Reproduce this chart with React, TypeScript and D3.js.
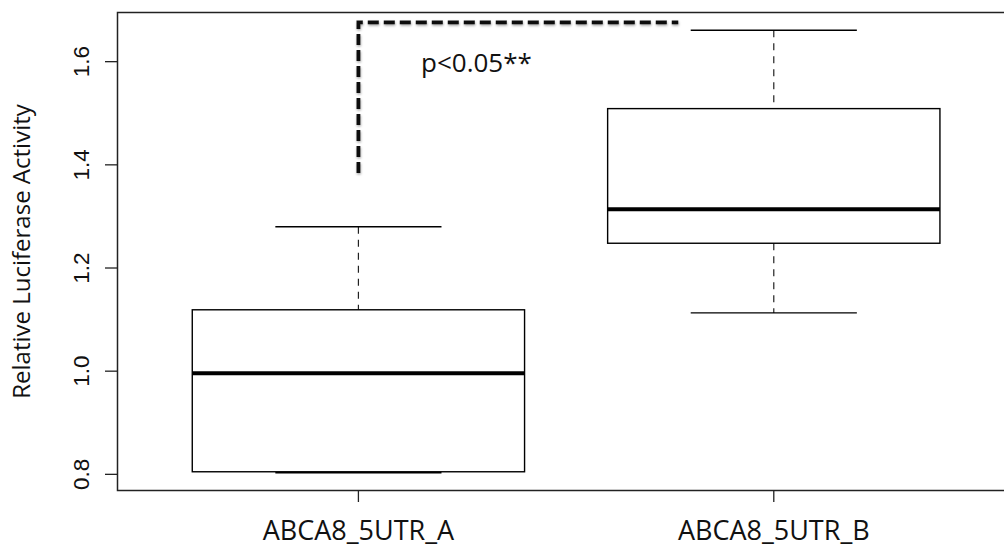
import * as d3 from "d3";

// box statistics
const categories = ["ABCA8_5UTR_A", "ABCA8_5UTR_B"];
const whiskerLow = [0.803, 1.113];
const q1 = [0.805, 1.248];
const median = [0.996, 1.314];
const q3 = [1.119, 1.509];
const whiskerHigh = [1.28, 1.661];
const yTicks = [0.8, 1.0, 1.2, 1.4, 1.6];

// significance bracket (data coordinates) and its label
const bracketX = [1, 1.77];
const bracketY = [1.384, 1.676];
const pLabel = "p<0.05**";

const W = 1004;
const H = 544;
const plot = { left: 117.5, top: 12.5, bottom: 490.5 };

export default function App() {
  // R-style 4% padding on both axes
  const x = d3.scaleLinear().domain([0.42, 2.58]).range([plot.left, 1014.7]);
  const yLo = d3.min(whiskerLow)!;
  const yHi = d3.max(whiskerHigh)!;
  const pad = (yHi - yLo) * 0.04;
  const y = d3
    .scaleLinear()
    .domain([yLo - pad, yHi + pad])
    .range([plot.bottom, plot.top]);

  const boxW = x(1.4) - x(1); // half width 0.4
  const capW = boxW / 2;

  const bracket = d3.line()([
    [x(bracketX[0]), y(bracketY[0])],
    [x(bracketX[0]), y(bracketY[1])],
    [x(bracketX[1]), y(bracketY[1])],
  ]);

  const labelFont = "'Open Sans', sans-serif";

  return (
    <svg
      width={W}
      height={H}
      style={{ position: "fixed", left: 0, top: 0, background: "#fff" }}
    >
      <defs>
        <filter id="shadow" x="-10%" y="-10%" width="120%" height="130%">
          <feDropShadow dx="0.5" dy="1.5" stdDeviation="1" floodColor="#000" floodOpacity="0.35" />
        </filter>
      </defs>

      {categories.map((c, i) => {
        const cx = x(i + 1);
        return (
          <g key={c} stroke="#000" fill="none">
            <line
              x1={cx} x2={cx} y1={y(whiskerHigh[i])} y2={y(q3[i])}
              strokeWidth={1.2} strokeDasharray="7,6" stroke="#222"
            />
            <line
              x1={cx} x2={cx} y1={y(q1[i])} y2={y(whiskerLow[i])}
              strokeWidth={1.2} strokeDasharray="7,6" stroke="#222"
            />
            <line x1={cx - capW} x2={cx + capW} y1={y(whiskerHigh[i])} y2={y(whiskerHigh[i])} strokeWidth={1.4} />
            <line x1={cx - capW} x2={cx + capW} y1={y(whiskerLow[i])} y2={y(whiskerLow[i])} strokeWidth={1.4} />
            <rect
              x={cx - boxW} y={y(q3[i])} width={boxW * 2} height={y(q1[i]) - y(q3[i])}
              fill="#fff" strokeWidth={1.4}
            />
            <line x1={cx - boxW} x2={cx + boxW} y1={y(median[i])} y2={y(median[i])} strokeWidth={4} />
          </g>
        );
      })}

      {/* frame */}
      <rect
        x={plot.left} y={plot.top} width={x(2.58) - plot.left} height={plot.bottom - plot.top}
        fill="none" stroke="#222" strokeWidth={1.5}
      />

      {/* y axis */}
      {yTicks.map(t => (
        <g key={t}>
          <line x1={plot.left - 12.5} x2={plot.left} y1={y(t)} y2={y(t)} stroke="#222" strokeWidth={1.3} />
          <text
            transform={`translate(89,${y(t)}) rotate(-90)`}
            textAnchor="middle"
            fontFamily="'Liberation Sans', Arial, sans-serif"
            fontSize={22.5}
            fill="#111"
          >
            {d3.format(".1f")(t)}
          </text>
        </g>
      ))}
      <text
        transform={`translate(30,${(plot.top + plot.bottom) / 2}) rotate(-90)`}
        textAnchor="middle"
        fontFamily={labelFont}
        fontSize={24}
        fill="#111"
      >
        Relative Luciferase Activity
      </text>

      {/* x axis */}
      {categories.map((c, i) => (
        <g key={c}>
          <line x1={x(i + 1)} x2={x(i + 1)} y1={plot.bottom} y2={plot.bottom + 11.5} stroke="#222" strokeWidth={1.3} />
          <text x={x(i + 1)} y={539.5} textAnchor="middle" fontFamily={labelFont} fontSize={27} fill="#111">
            {c}
          </text>
        </g>
      ))}

      {/* significance annotation */}
      <path
        d={bracket ?? ""}
        fill="none"
        stroke="#111"
        strokeWidth={3.8}
        strokeDasharray="11,5"
        filter="url(#shadow)"
      />
      <text x={421} y={72} fontFamily={labelFont} fontSize={26} fill="#111">
        {pLabel}
      </text>
    </svg>
  );
}
